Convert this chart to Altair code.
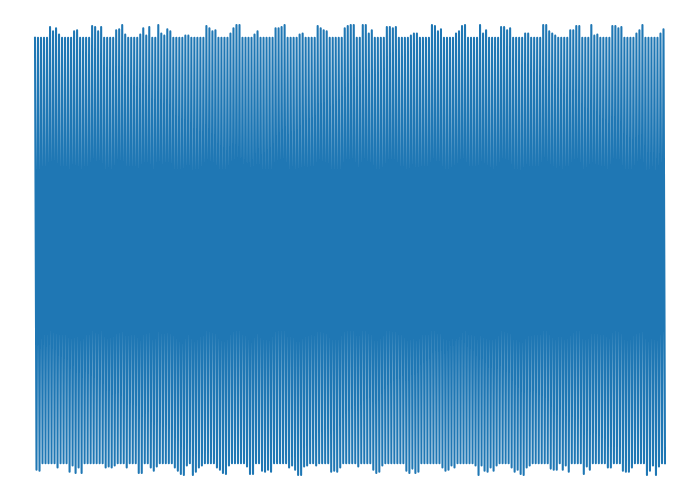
import altair as alt
import pandas as pd

# Plateau levels
TOP_LEVEL = 1.0
BOTTOM_LEVEL = -1.0
N_TOP = 210
N_BOTTOM = 210

# Overshoots above the top plateau: (index of top point, value)
top_peaks = [
    (5, 1.05), (6, 1.03), (7, 1.045), (8, 1.015),
    (13, 1.03), (14, 1.035),
    (19, 1.055), (20, 1.05), (21, 1.03), (22, 1.05),
    (27, 1.035), (28, 1.04), (29, 1.06), (30, 1.015),
    (35, 1.015), (36, 1.045), (37, 1.01), (38, 1.05),
    (41, 1.06), (42, 1.02), (43, 1.01), (44, 1.04), (45, 1.03),
    (50, 1.01), (51, 1.01),
    (57, 1.055), (58, 1.045), (59, 1.03), (60, 1.035),
    (65, 1.02), (66, 1.045), (67, 1.06), (68, 1.06),
    (73, 1.015), (74, 1.03),
    (80, 1.045), (81, 1.045), (82, 1.05), (83, 1.06),
    (88, 1.015), (89, 1.02),
    (94, 1.055), (95, 1.045), (96, 1.035), (97, 1.03),
    (103, 1.045), (104, 1.055), (105, 1.06), (106, 1.06),
    (109, 1.06), (110, 1.06), (111, 1.02), (112, 1.035),
    (117, 1.05), (118, 1.05), (119, 1.045), (120, 1.05),
    (125, 1.01), (126, 1.02), (127, 1.02),
    (132, 1.06), (133, 1.055), (134, 1.03), (135, 1.04),
    (140, 1.02), (141, 1.03), (142, 1.055), (143, 1.06),
    (148, 1.06), (149, 1.02), (150, 1.035),
    (155, 1.05), (156, 1.05), (157, 1.035), (158, 1.045),
    (163, 1.02), (164, 1.02),
    (169, 1.06), (170, 1.06), (171, 1.03), (172, 1.02), (173, 1.01),
    (178, 1.035), (179, 1.035), (180, 1.055), (181, 1.055),
    (185, 1.06), (186, 1.01), (187, 1.015),
    (192, 1.055), (193, 1.055), (194, 1.045), (195, 1.05),
    (200, 1.02), (201, 1.035), (202, 1.06),
    (208, 1.02), (209, 1.04),
]

# Undershoots below the bottom plateau: (index of bottom point, value)
bottom_peaks = [
    (0, -1.03), (1, -1.035),
    (7, -1.02),
    (11, -1.04), (12, -1.01), (13, -1.045), (14, -1.02), (15, -1.045),
    (23, -1.02), (24, -1.015), (25, -1.02), (26, -1.01),
    (30, -1.02),
    (34, -1.045), (35, -1.045),
    (38, -1.02), (39, -1.035), (40, -1.015),
    (46, -1.02), (47, -1.035), (48, -1.05), (49, -1.055), (50, -1.01),
    (52, -1.055), (53, -1.04), (54, -1.02), (55, -1.01),
    (60, -1.02), (61, -1.03), (62, -1.045), (63, -1.05), (64, -1.01),
    (70, -1.015), (71, -1.05), (72, -1.05),
    (75, -1.035), (76, -1.04), (77, -1.03), (78, -1.04),
    (84, -1.02), (85, -1.01),
    (86, -1.03), (87, -1.055), (88, -1.055), (89, -1.015), (90, -1.01),
    (93, -1.01),
    (98, -1.04), (99, -1.035), (100, -1.04), (101, -1.02),
    (107, -1.015),
    (112, -1.03), (113, -1.045), (114, -1.04), (115, -1.01),
    (123, -1.035), (124, -1.045), (125, -1.025), (126, -1.045), (127, -1.04),
    (135, -1.02), (136, -1.035), (137, -1.03), (138, -1.01), (139, -1.02),
    (146, -1.01), (147, -1.055), (148, -1.01), (149, -1.035), (150, -1.04),
    (151, -1.02), (152, -1.035), (153, -1.01),
    (158, -1.02), (159, -1.04), (160, -1.03), (161, -1.05), (162, -1.055),
    (163, -1.02), (164, -1.01),
    (171, -1.025), (172, -1.03), (173, -1.03),
    (175, -1.03), (176, -1.01), (177, -1.04),
    (182, -1.05), (183, -1.015), (184, -1.03),
    (190, -1.02), (191, -1.02),
    (195, -1.035), (196, -1.04), (197, -1.04), (198, -1.02),
    (203, -1.055), (204, -1.035), (205, -1.01), (206, -1.055), (207, -1.015),
]

top = [TOP_LEVEL] * N_TOP
for i, v in top_peaks:
    top[i] = v
bottom = [BOTTOM_LEVEL] * N_BOTTOM
for j, v in bottom_peaks:
    bottom[j] = v

values = []
for t, b in zip(top, bottom):
    values.append(t)
    values.append(b)

df = pd.DataFrame({"i": list(range(len(values))), "v": values})

chart = (
    alt.Chart(df)
    .mark_line(color="#1f77b4", strokeWidth=2.08, strokeJoin="round", strokeCap="square")
    .encode(
        x=alt.X("i:Q", axis=None,
                scale=alt.Scale(domain=[0, len(values) - 1], nice=False, zero=False)),
        y=alt.Y("v:Q", axis=None,
                scale=alt.Scale(domain=[min(values), max(values)], nice=False, zero=False)),
        order="i:Q",
    )
    .properties(
        width=630,
        height=450,
        padding={"left": 35, "top": 25, "right": 35, "bottom": 25},
        autosize="none",
        background="white",
    )
    .configure_view(stroke=None)
)

chart.save("out.html", embed_options={"renderer": "svg", "actions": False})
